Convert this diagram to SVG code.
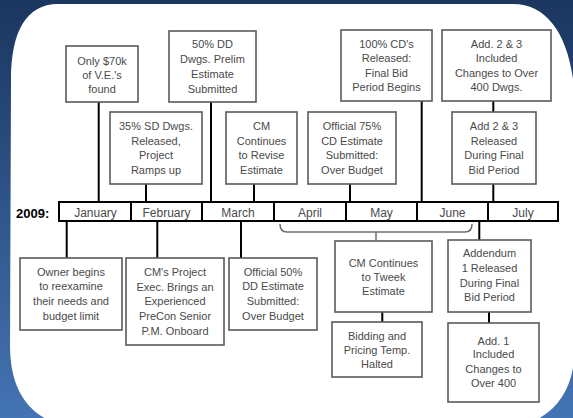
<svg xmlns="http://www.w3.org/2000/svg" width="573" height="418" viewBox="0 0 573 418">
<defs>
<linearGradient id="bg" x1="0" y1="0" x2="0" y2="1">
<stop offset="0" stop-color="#1b365f"/>
<stop offset="1" stop-color="#4474b4"/>
</linearGradient>
<style>
.box{fill:#fff;stroke:#5a5a5a;stroke-width:1.6}
.t{font-family:"Liberation Sans",Arial,sans-serif;font-size:11px;fill:#4a4a4a;text-anchor:middle}
.m{font-size:12px}
.c{stroke:#000;stroke-width:2;fill:none}
.br{stroke:#707070;stroke-width:1.5;fill:none}
.bar{fill:#fff;stroke:#000;stroke-width:2}
</style>
</defs>
<rect x="0" y="0" width="573" height="418" fill="url(#bg)"/>
<path d="M11,80 C11,32 26,4 58,4 L513,4 C550,4 572,40 575,100 L575,345 C575,385 560,412 525,425 L60,425 C30,415 10,392 10,345 Z" fill="#fff"/>

<g id="timeline">
<rect class="bar" x="59" y="202" width="499" height="19"/>
<path class="c" d="M131,202V221M202,202V221M274,202V221M346,202V221M417,202V221M488,202V221"/>
<text x="16" y="217.5" style="font-family:'Liberation Sans',Arial,sans-serif;font-size:13px;font-weight:bold;fill:#000">2009:</text>
<text class="t m" x="95.5" y="217">January</text>
<text class="t m" x="166.5" y="217">February</text>
<text class="t m" x="238" y="217">March</text>
<text class="t m" x="310" y="217">April</text>
<text class="t m" x="381.5" y="217">May</text>
<text class="t m" x="452.5" y="217">June</text>
<text class="t m" x="523" y="217">July</text>
</g>

<g id="connectors">
<path class="c" d="M98.7,102V202M146,184V202M211,102V202M254,184V202M350,184V202M421.7,101V202M493.3,101V112M493.3,184V202"/>
<path class="c" d="M66.7,221V258M157.3,221V258M241,221V258M479.3,221V240M382.3,312V322M489,312V323"/>
<path class="br" d="M280,224 Q280,232 287,232 H465 Q472,232 472,224 M376,232 V241"/>
</g>

<g id="n1"><rect class="box" x="66" y="46" width="72" height="56"/>
<text class="t"><tspan x="102" y="65">Only $70k</tspan><tspan x="102" y="79">of V.E.'s</tspan><tspan x="102" y="93">found</tspan></text></g>

<g id="n2"><rect class="box" x="110" y="112" width="92" height="72"/>
<text class="t"><tspan x="156" y="130">35% SD Dwgs.</tspan><tspan x="156" y="144.5">Released,</tspan><tspan x="156" y="159">Project</tspan><tspan x="156" y="174">Ramps up</tspan></text></g>

<g id="n3"><rect class="box" x="169" y="31" width="87" height="71"/>
<text class="t"><tspan x="212.5" y="48.3">50% DD</tspan><tspan x="212.5" y="63">Dwgs. Prelim</tspan><tspan x="212.5" y="77.7">Estimate</tspan><tspan x="212.5" y="92.5">Submitted</tspan></text></g>

<g id="n4"><rect class="box" x="226" y="112" width="71" height="72"/>
<text class="t"><tspan x="261.5" y="130">CM</tspan><tspan x="261.5" y="144.5">Continues</tspan><tspan x="261.5" y="159">to Revise</tspan><tspan x="261.5" y="174">Estimate</tspan></text></g>

<g id="n5"><rect class="box" x="308" y="112" width="88" height="72"/>
<text class="t"><tspan x="352" y="130">Official 75%</tspan><tspan x="352" y="144.5">CD Estimate</tspan><tspan x="352" y="159">Submitted:</tspan><tspan x="352" y="174">Over Budget</tspan></text></g>

<g id="n6"><rect class="box" x="341" y="30" width="91" height="71"/>
<text class="t"><tspan x="386.5" y="48">100% CD's</tspan><tspan x="386.5" y="62.3">Released:</tspan><tspan x="386.5" y="76.7">Final Bid</tspan><tspan x="386.5" y="91.3">Period Begins</tspan></text></g>

<g id="n7"><rect class="box" x="442" y="30" width="109" height="71"/>
<text class="t"><tspan x="496.5" y="48">Add. 2 &amp; 3</tspan><tspan x="496.5" y="62.3">Included</tspan><tspan x="496.5" y="76.7">Changes to Over</tspan><tspan x="496.5" y="91.3">400 Dwgs.</tspan></text></g>

<g id="n8"><rect class="box" x="452" y="112" width="84" height="72"/>
<text class="t"><tspan x="494" y="130">Add 2 &amp; 3</tspan><tspan x="494" y="144.5">Released</tspan><tspan x="494" y="159">During Final</tspan><tspan x="494" y="174">Bid Period</tspan></text></g>

<g id="n9"><rect class="box" x="20" y="258" width="102" height="72"/>
<text class="t"><tspan x="71" y="275.7">Owner begins</tspan><tspan x="71" y="290.3">to reexamine</tspan><tspan x="71" y="305">their needs and</tspan><tspan x="71" y="320">budget limit</tspan></text></g>

<g id="n10"><rect class="box" x="126" y="258" width="98" height="87"/>
<text class="t"><tspan x="175" y="275.7">CM's Project</tspan><tspan x="175" y="290.7">Exec. Brings an</tspan><tspan x="175" y="305">Experienced</tspan><tspan x="175" y="320">PreCon Senior</tspan><tspan x="175" y="335">P.M. Onboard</tspan></text></g>

<g id="n11"><rect class="box" x="229" y="258" width="88" height="72"/>
<text class="t"><tspan x="273" y="275.7">Official 50%</tspan><tspan x="273" y="290.3">DD Estimate</tspan><tspan x="273" y="305">Submitted:</tspan><tspan x="273" y="320">Over Budget</tspan></text></g>

<g id="n12"><rect class="box" x="335" y="241" width="97" height="71"/>
<text class="t"><tspan x="383.5" y="266.7">CM Continues</tspan><tspan x="383.5" y="281.3">to Tweek</tspan><tspan x="383.5" y="295">Estimate</tspan></text></g>

<g id="n13"><rect class="box" x="332" y="322" width="90" height="55"/>
<text class="t"><tspan x="377" y="339.7">Bidding and</tspan><tspan x="377" y="354">Pricing Temp.</tspan><tspan x="377" y="368">Halted</tspan></text></g>

<g id="n14"><rect class="box" x="448" y="240" width="83" height="72"/>
<text class="t"><tspan x="489.5" y="257.3">Addendum</tspan><tspan x="489.5" y="272.3">1 Released</tspan><tspan x="489.5" y="286.7">During Final</tspan><tspan x="489.5" y="301.3">Bid Period</tspan></text></g>

<g id="n15"><rect class="box" x="448" y="323" width="91" height="79"/>
<text class="t"><tspan x="493.5" y="344.7">Add. 1</tspan><tspan x="493.5" y="358.3">Included</tspan><tspan x="493.5" y="373">Changes to</tspan><tspan x="493.5" y="387.3">Over 400</tspan></text></g>
</svg>
